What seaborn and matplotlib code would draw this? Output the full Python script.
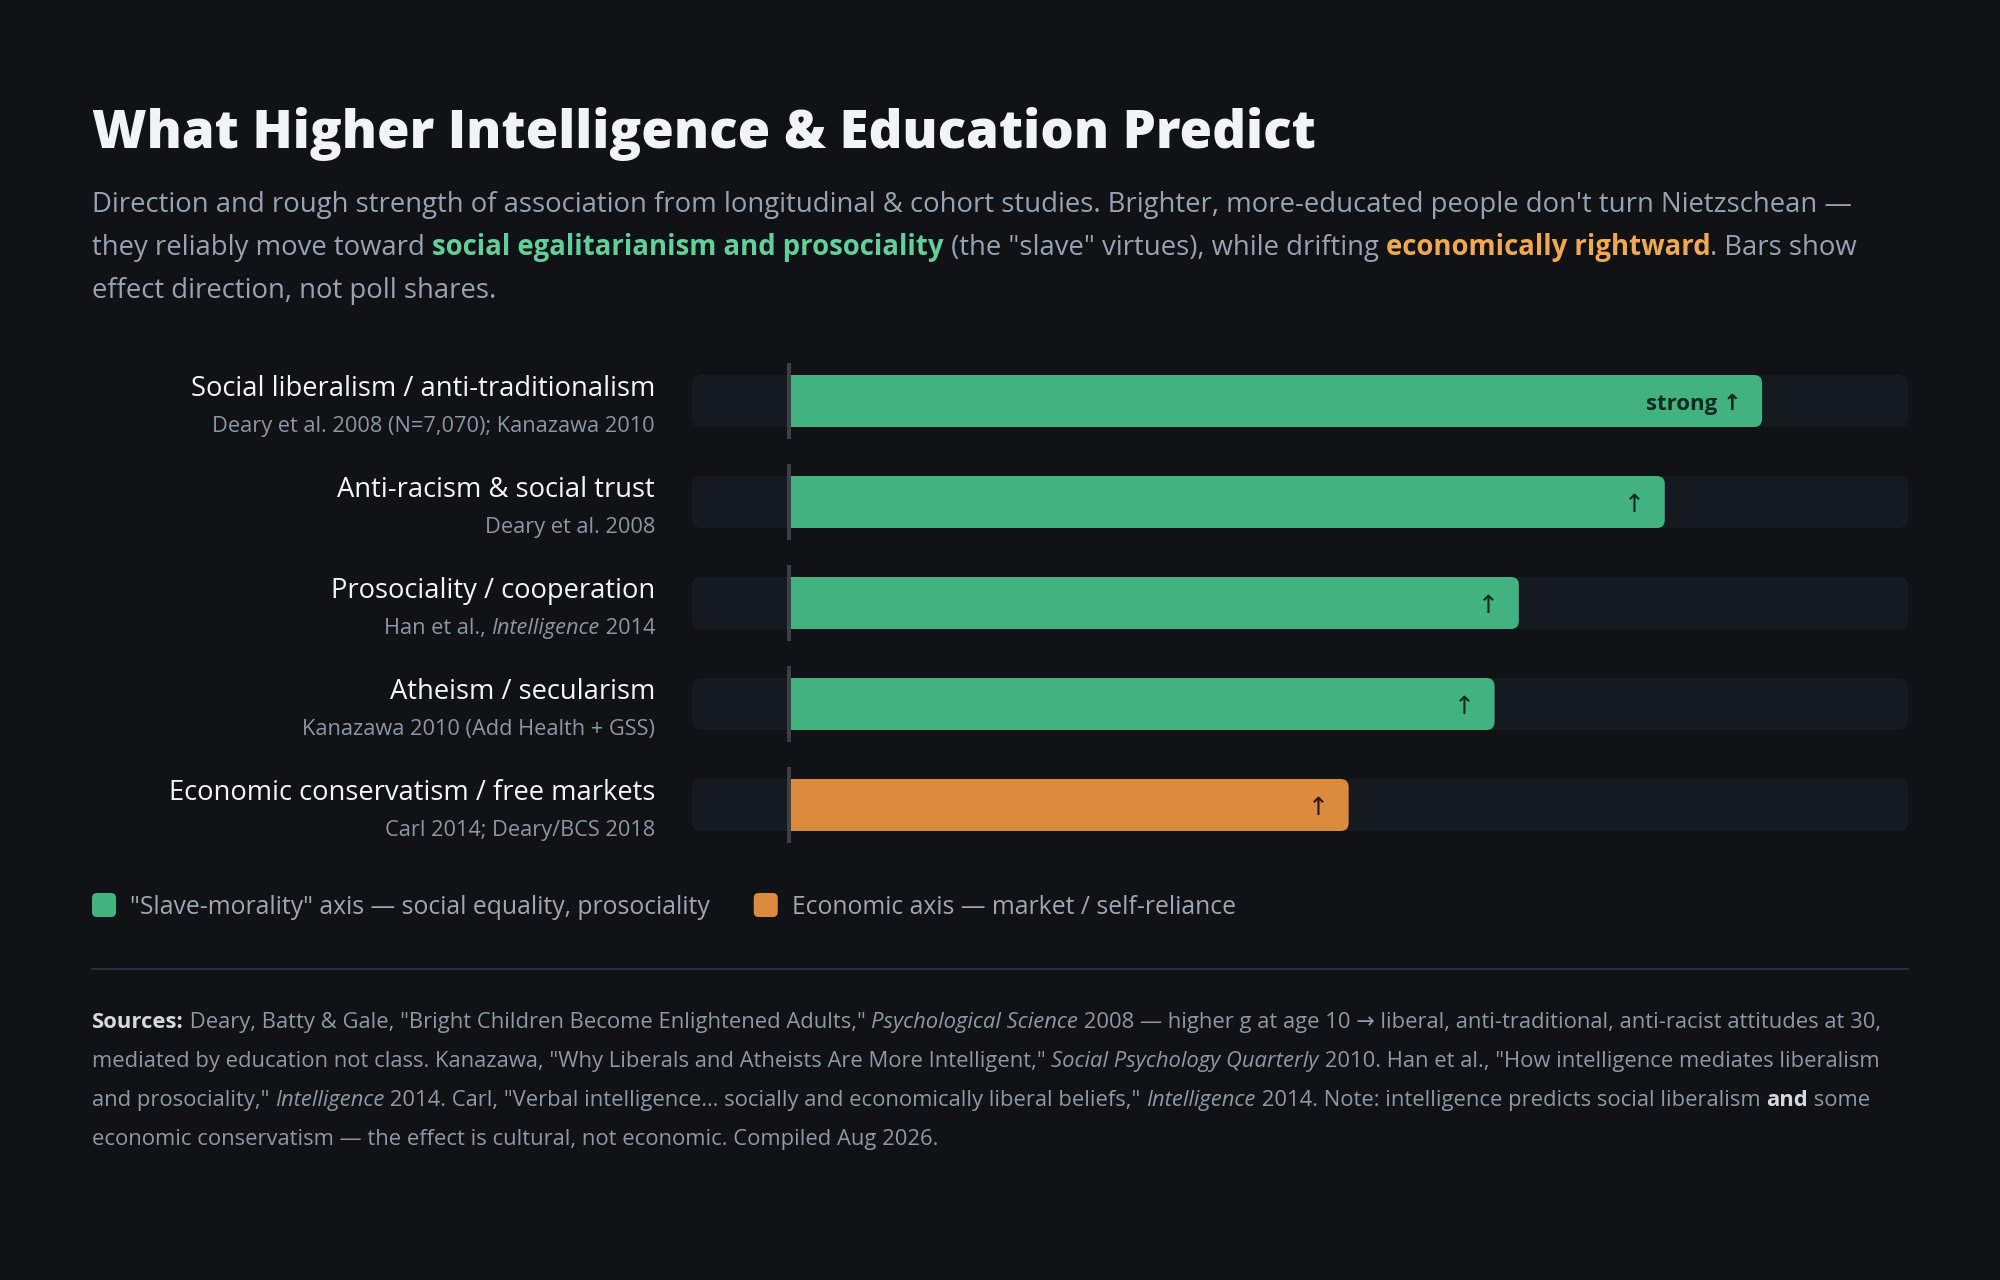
import re
import matplotlib
matplotlib.use("Agg")
import matplotlib.pyplot as plt
import numpy as np
import pandas as pd
import seaborn as sns
from matplotlib.patches import FancyBboxPatch

# ---------------- data ----------------
categories = [
    "Social liberalism / anti-traditionalism",
    "Anti-racism & social trust",
    "Prosociality / cooperation",
    "Atheism / secularism",
    "Economic conservatism / free markets",
]
citations = [
    "Deary et al. 2008 (N=7,070); Kanazawa 2010",
    "Deary et al. 2008",
    "Han et al., {i:Intelligence} 2014",
    "Kanazawa 2010 (Add Health + GSS)",
    "Carl 2014; Deary/BCS 2018",
]
effect = [80, 72, 60, 58, 46]          # relative strength (share of track)
axis_group = ["social", "social", "social", "social", "economic"]
bar_labels = ["strong \u2191", "\u2191", "\u2191", "\u2191", "\u2191"]
track_min, track_max = -8, 92

legend_labels = {
    "social": "\"Slave-morality\" axis \u2014 social equality, prosociality",
    "economic": "Economic axis \u2014 market / self-reliance",
}

title = "What Higher Intelligence & Education Predict"
subtitle_lines = [
    "Direction and rough strength of association from longitudinal & cohort studies. Brighter, more-educated people don't turn Nietzschean \u2014",
    "they reliably move toward {g:social egalitarianism and prosociality} (the \"slave\" virtues), while drifting {o:economically rightward}. Bars show",
    "effect direction, not poll shares.",
]
source_lines = [
    "{b:Sources:} Deary, Batty & Gale, \"Bright Children Become Enlightened Adults,\" {i:Psychological Science} 2008 \u2014 higher g at age 10 \u2192 liberal, anti-traditional, anti-racist attitudes at 30,",
    "mediated by education not class. Kanazawa, \"Why Liberals and Atheists Are More Intelligent,\" {i:Social Psychology Quarterly} 2010. Han et al., \"How intelligence mediates liberalism",
    "and prosociality,\" {i:Intelligence} 2014. Carl, \"Verbal intelligence\u2026 socially and economically liberal beliefs,\" {i:Intelligence} 2014. Note: intelligence predicts social liberalism {b:and} some",
    "economic conservatism \u2014 the effect is cultural, not economic. Compiled Aug 2026.",
]

# ---------------- style ----------------
BG = "#101216"
TRACK = "#151920"
GREEN = "#41b280"
ORANGE = "#db8b3e"
ZERO = "#3c3f46"
TITLE_C = "#f2f3f7"
SUB_C = "#98a3b3"
LABEL_C = "#f4f5f7"
CITE_C = "#8d97a4"
LEG_C = "#9ea7b2"
SRC_C = "#8f99a6"
SRC_B = "#d6dae0"
HL_G = "#63cf9b"
HL_O = "#f0a852"

sns.set_theme(style="white")
FAM = ["Open Sans", "DejaVu Sans"]
plt.rcParams["font.family"] = FAM

W, H, DPI = 2000, 1280, 100
fig = plt.figure(figsize=(W / DPI, H / DPI), dpi=DPI, facecolor=BG)

# background axes in pixel coordinates
bg = fig.add_axes([0, 0, 1, 1])
bg.set_xlim(0, W)
bg.set_ylim(H, 0)
bg.axis("off")
bg.set_facecolor(BG)
renderer = fig.canvas.get_renderer()


def parse(s):
    runs, pos = [], 0
    for m in re.finditer(r"\{(\w):(.*?)\}", s):
        if m.start() > pos:
            runs.append(("n", s[pos:m.start()]))
        runs.append((m.group(1), m.group(2)))
        pos = m.end()
    if pos < len(s):
        runs.append(("n", s[pos:]))
    return runs


def style_for(code, color, bold_color=None):
    if code == "i":
        return dict(color=color, fontstyle="italic")
    if code == "b":
        return dict(color=bold_color or color, fontweight="bold")
    if code == "g":
        return dict(color=HL_G, fontweight="bold")
    if code == "o":
        return dict(color=HL_O, fontweight="bold")
    return dict(color=color)


def measure(s, **kw):
    t1 = bg.text(0, 0, "|" + s + "|", **kw)
    w1 = t1.get_window_extent(renderer).width
    t1.remove()
    t2 = bg.text(0, 0, "||", **kw)
    w2 = t2.get_window_extent(renderer).width
    t2.remove()
    return w1 - w2


def rich(x, y, s, size, color, bold_color=None, align="left"):
    runs = parse(s)
    kws = [dict(fontsize=size, family=FAM, **style_for(c, color, bold_color)) for c, _ in runs]
    widths = [measure(t, **kw) for (_, t), kw in zip(runs, kws)]
    total = sum(widths)
    if align == "right":
        x = x - total
    for (_, t), kw, w in zip(runs, kws, widths):
        bg.text(x, y, t, ha="left", va="baseline", **kw)
        x += w
    return x


# ---------------- title & subtitle ----------------
bg.text(92, 148, title, ha="left", va="baseline", fontsize=37.9, fontweight=800,
        color=TITLE_C, family=FAM)
for k, line in enumerate(subtitle_lines):
    rich(92, 212 + 43 * k, line, 19.8, SUB_C)

# ---------------- bars ----------------
ax_left, ax_right = 692, 1908
row0, row_gap = 401, 101
n = len(categories)
ax_top = row0 - row_gap / 2
ax_bot = row0 + (n - 0.5) * row_gap
ax = fig.add_axes([ax_left / W, 1 - ax_bot / H, (ax_right - ax_left) / W, (ax_bot - ax_top) / H])
ax.set_facecolor("none")

df = pd.DataFrame({"category": categories, "effect": effect, "axis": axis_group})
bar_h = 52 / row_gap
sns.barplot(data=df, x="effect", y="category", hue="axis",
            palette={"social": GREEN, "economic": ORANGE}, dodge=False,
            width=bar_h, saturation=1, legend=False, ax=ax, zorder=2)
ax.set_xlim(track_min, track_max)
ax.set_ylim(n - 0.5, -0.5)
ax.axis("off")

px_per_x = (ax_right - ax_left) / (track_max - track_min)
rad_px = 8
r_x = rad_px / px_per_x
aspect = (rad_px / row_gap) / r_x

# tracks
for i in range(n):
    ax.add_patch(FancyBboxPatch((track_min, i - bar_h / 2), track_max - track_min, bar_h,
                                boxstyle=f"round,pad=0,rounding_size={r_x}",
                                mutation_aspect=aspect, facecolor=TRACK, edgecolor="none", zorder=0.5))

# round right ends of bars
for p in list(ax.patches):
    if isinstance(p, FancyBboxPatch):
        continue
    x0, y0, w, h = p.get_x(), p.get_y(), p.get_width(), p.get_height()
    if w <= 0:
        continue
    fc = p.get_facecolor()
    p.set_width(max(w - 2 * r_x, 0))
    p.set_edgecolor("none")
    ax.add_patch(FancyBboxPatch((x0, y0), w, h, boxstyle=f"round,pad=0,rounding_size={r_x}",
                                mutation_aspect=aspect, facecolor=fc, edgecolor="none", zorder=2))

# zero line per row
ext = (52 / 2 + 12) / row_gap
for i in range(n):
    ax.vlines(0, i - ext, i + ext, color=ZERO, lw=4 * 72 / DPI, zorder=3)

# bar value labels
pad = 20 / px_per_x
for i, (v, lab, g) in enumerate(zip(effect, bar_labels, axis_group)):
    col = "#0c2a1d" if g == "social" else "#2e1605"
    if len(lab) > 1:
        ax.text(v - pad, i + 0.035, lab, ha="right", va="center", fontsize=16,
                fontweight="bold", color=col, family=FAM, zorder=4)
    else:
        ax.text(v - pad, i + 0.03, lab, ha="right", va="center", fontsize=18,
                fontweight="normal", color=col, family=FAM, zorder=4)

# row labels
label_right = 655
for i, (cat, cite) in enumerate(zip(categories, citations)):
    yc = row0 + i * row_gap
    bg.text(label_right, yc - 5, cat, ha="right", va="baseline", fontsize=19.75,
            color=LABEL_C, family=FAM)
    rich(label_right, yc + 31, cite, 15.7, CITE_C, align="right")

# ---------------- legend ----------------
x = 92
for key, colr in (("social", GREEN), ("economic", ORANGE)):
    bg.add_patch(FancyBboxPatch((x, 893), 24, 24, boxstyle="round,pad=0,rounding_size=5",
                                facecolor=colr, edgecolor="none"))
    end = rich(x + 38, 914, legend_labels[key], 17.8, LEG_C)
    x = end + 44

# divider
bg.plot([92, 1908], [969, 969], color="#2a2f37", lw=2 * 72 / DPI)

# ---------------- sources ----------------
for k, line in enumerate(source_lines):
    rich(92, 1028 + 39 * k, line, 15.85, SRC_C, bold_color=SRC_B)

fig.savefig("out.png", dpi=DPI, facecolor=BG)
